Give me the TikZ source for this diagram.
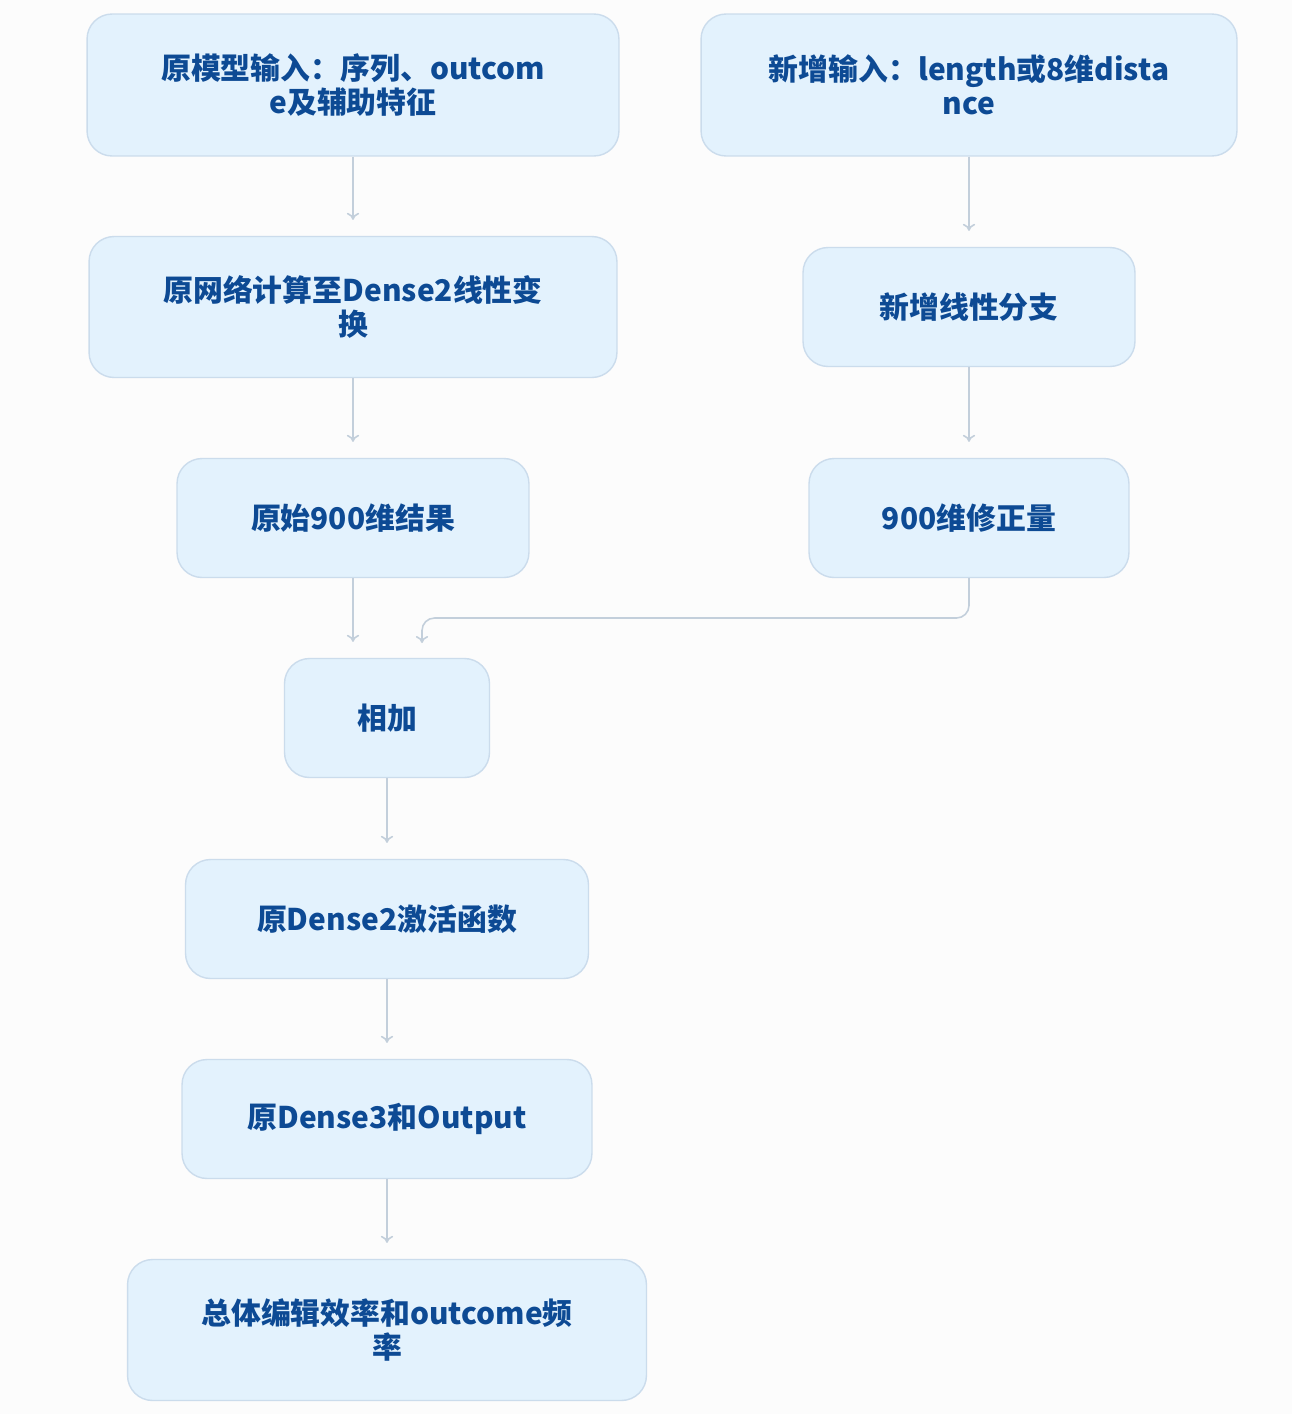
\documentclass[tikz,border=0pt]{standalone}
\usepackage{fontspec}
\setmainfont{Noto Sans CJK SC}
\usetikzlibrary{arrows.meta,positioning}
\definecolor{boxfill}{HTML}{E3F2FD}
\definecolor{boxline}{HTML}{CBDCEC}
\definecolor{boxtext}{HTML}{0D4A94}
\definecolor{linkgray}{HTML}{C3CFDB}

\begin{document}
\begin{tikzpicture}[x=0.02cm,y=-0.02cm,
    stage/.style={draw=boxline, fill=boxfill, rounded corners=0.5cm, line width=0.8pt,
        text=boxtext, font=\fontsize{17}{19.5}\selectfont\bfseries, align=center, inner sep=0pt},
    link/.style={draw=linkgray, line width=0.9pt, -{To[length=4pt,width=7pt]}, shorten >=0.32cm}]
    \useasboundingbox[fill=white!98!gray] (0,0) rectangle (1292,1414);

    % left column
    \node[stage, minimum width=10.64cm, minimum height=2.84cm] (input) at (353,85) {原模型输入：序列、outcom\\e及辅助特征};
    \node[stage, minimum width=10.56cm, minimum height=2.82cm] (dense) at (353,307) {原网络计算至Dense2线性变\\换};
    \node[stage, minimum width=7.04cm, minimum height=2.38cm] (orig) at (353,518) {原始900维结果};

    % right column
    \node[stage, minimum width=10.72cm, minimum height=2.84cm] (extra) at (969,85) {新增输入：length或8维dista\\nce};
    \node[stage, minimum width=6.64cm, minimum height=2.38cm] (branch) at (969,307) {新增线性分支};
    \node[stage, minimum width=6.4cm, minimum height=2.38cm] (corr) at (969,518) {900维修正量};

    % merged path
    \node[stage, minimum width=4.1cm, minimum height=2.38cm] (sum) at (387,718) {相加};
    \node[stage, minimum width=8.06cm, minimum height=2.38cm] (act) at (387,919) {原Dense2激活函数};
    \node[stage, minimum width=8.2cm, minimum height=2.38cm] (out) at (387,1119) {原Dense3和Output};
    \node[stage, minimum width=10.38cm, minimum height=2.82cm] (final) at (387,1330) {总体编辑效率和outcome频\\率};

    % connectors
    \draw[link] (input.south) -- (dense.north);
    \draw[link] (dense.south) -- (orig.north);
    \draw[link] (orig.south) -- (orig.south |- sum.north);
    \draw[link] (extra.south) -- (branch.north);
    \draw[link] (branch.south) -- (corr.north);
    \draw[link, rounded corners=0.25cm] (corr.south) -- (969,618) -- (422,618) -- (422,659);
    \draw[link] (sum.south) -- (act.north);
    \draw[link] (act.south) -- (out.north);
    \draw[link] (out.south) -- (final.north);
\end{tikzpicture}
\end{document}
